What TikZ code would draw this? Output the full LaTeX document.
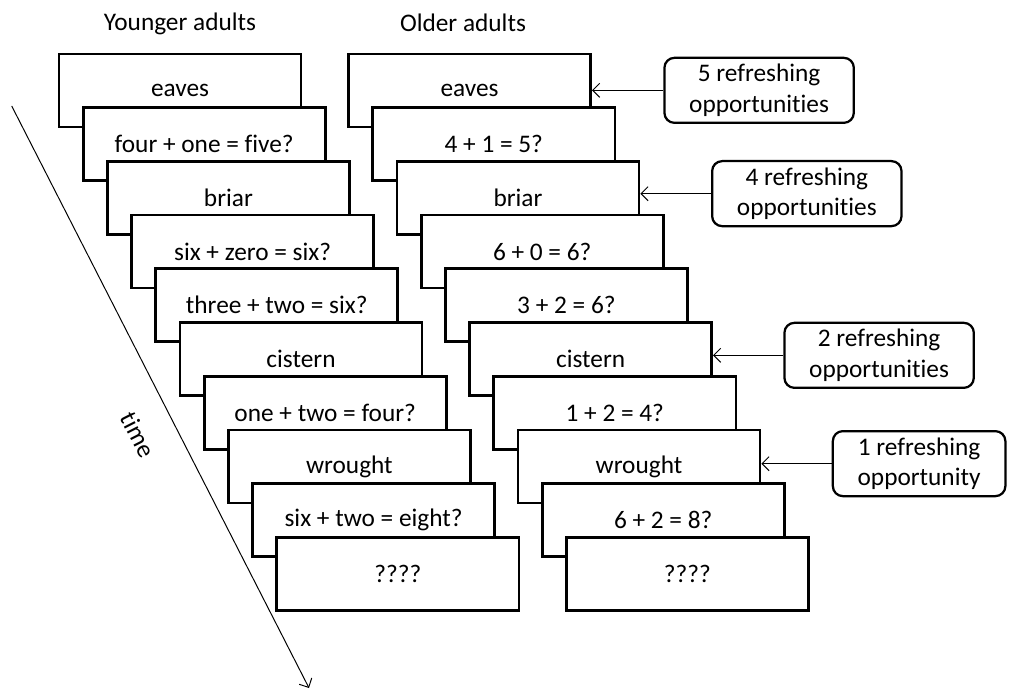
\documentclass[tikz,border=0pt]{standalone}
\usepackage{fontspec}
\setmainfont{Carlito}[RawFeature=-liga]
\usepackage{tikz}
\usetikzlibrary{arrows.meta}
\tikzstyle{card} = [draw=black, fill=white, line width=1.9pt, minimum width=6.05cm, minimum height=1.825cm, inner sep=0pt]
\tikzstyle{arrow} = [line width=0.7pt, -{Straight Barb[length=5pt,width=10pt]}]

\begin{document}
\begin{tikzpicture}[x=0.025cm, y=-0.025cm, font=\fontsize{18}{21.5}\selectfont]
        \tikzstyle{note} = [draw=black, line width=1.6pt, rounded corners=0.25cm, align=center, minimum height=1.625cm, inner xsep=0.62cm, anchor=north west]
        \useasboundingbox (0,0) rectangle (1014,689);

        \node (young) at (180, 24) {Younger adults};
        \node (older) at (463, 23) {Older adults};

        % younger adults: numbers as words
        \foreach \txt [count=\i from 0] in {eaves, four + one = five?, briar, six + zero = six?, three + two = six?, cistern, one + two = four?, wrought, six + two = eight?, ????}{
                \node (yng\i) at (180+24.2*\i, 90.5+53.7*\i) [card] {\txt};
            }

        % older adults: digits
        \foreach \txt [count=\i from 0] in {eaves, 4 + 1 = 5?, briar, 6 + 0 = 6?, 3 + 2 = 6?, cistern, 1 + 2 = 4?, wrought, 6 + 2 = 8?, ????}{
                \node (old\i) at (469.6+24.2*\i, 90.5+53.7*\i) [card] {\txt};
            }

        \node (ref5) at (663.3, 56.7) [note] {5 refreshing\\opportunities};
        \node (ref4) at (711, 160) [note] {4 refreshing\\opportunities};
        \node (ref2) at (783.3, 321.7) [note] {2 refreshing\\opportunities};
        \node (ref1) at (831.7, 430) [note] {1 refreshing\\opportunity};

        \draw[arrow] (ref5.west) -- (ref5.west -| old0.east);
        \draw[arrow] (ref4.west) -- (ref4.west -| old2.east);
        \draw[arrow] (ref2.west) -- (ref2.west -| old5.east);
        \draw[arrow] (ref1.west) -- (ref1.west -| old7.east);

        \coordinate (t0) at (11.7, 106);
        \coordinate (t1) at (309, 688);
        \draw[arrow] (t0) -- (t1);
        \node (timelbl) at (138, 435) [rotate=-63] {time};
    \end{tikzpicture}
\end{document}
